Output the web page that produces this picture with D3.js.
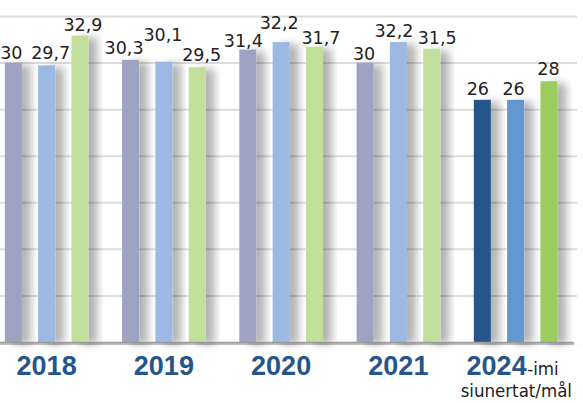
<!DOCTYPE html>
<html><head><meta charset="utf-8">
<script src="https://cdn.jsdelivr.net/npm/d3@7"></script>
<style>html,body{margin:0;padding:0;background:#fff;}svg{display:block;}</style>
</head><body>
<svg id="c" width="583" height="403"></svg>
<script>
const categories = ["2018","2019","2020","2021","2024"];
const seriesA = [30, 30.3, 31.4, 30, 26];
const seriesB = [29.7, 30.1, 32.2, 32.2, 26];
const seriesC = [32.9, 29.5, 31.7, 31.5, 28];
const yTicks = [0,5,10,15,20,25,30,35];
const coloursPast = ["#9ca3c3","#9bb9e2","#c2df9b"];
const coloursTarget = ["#26558a","#6497d0","#9ccc5c"];
// manual label nudges (dx, lift above bar top) as in the reference
const labelDx = [[-2,-6.5,-4.5,-1,-4.5],[4,-1,-2,-4.5,-2],[3,4.5,6.5,5.5,-0.5]];
const labelLift = [[3.3,5.5,3,2.7,5],[6,21,12.7,5.4,5],[5,6.6,2.4,4.3,6]];

const svg = d3.select("#c");
const defs = svg.append("defs");
const f = defs.append("filter").attr("id","sh").attr("x","-20%").attr("y","-10%").attr("width","200%").attr("height","130%");
f.append("feGaussianBlur").attr("in","SourceAlpha").attr("stdDeviation",4.5).attr("result","b");
f.append("feOffset").attr("in","b").attr("dx",9).attr("dy",2).attr("result","o");
f.append("feComponentTransfer").attr("in","o").attr("result","t").append("feFuncA").attr("type","linear").attr("slope",0.3);
const m = f.append("feMerge"); m.append("feMergeNode").attr("in","t"); m.append("feMergeNode").attr("in","SourceGraphic");

const y = d3.scaleLinear().domain([0,35]).range([342,16]);
const x = d3.scaleBand().domain(categories).range([-12,574.25]).padding(0);
const xi = d3.scalePoint().domain([0,1,2]).range([-33.3,33.3]);
const bw = 17;

// gridlines
const g = svg.append("g")
  .call(d3.axisLeft(y).tickValues(yTicks.slice(1)).tickSize(-577).tickFormat(""));
g.select(".domain").remove();
g.selectAll(".tick line").attr("stroke","#dcdcdc").attr("stroke-width",2);

// baseline shadow
svg.append("rect").attr("x",0).attr("y",y(0)).attr("width",574).attr("height",3).attr("fill","#000").attr("opacity",0.25).attr("filter","url(#sh)");

const data = categories.map((c,i)=>({c, i, vals:[seriesA[i],seriesB[i],seriesC[i]], target:i===4}));
const grp = svg.selectAll(".grp").data(data).join("g").attr("class","grp")
  .attr("transform",d=>`translate(${x(d.c)+x.bandwidth()/2},0)`);
grp.selectAll("rect").data(d=>d.vals.map((v,k)=>({v,k,t:d.target}))).join("rect")
  .attr("x",d=>xi(d.k)-bw/2).attr("width",bw)
  .attr("y",d=>y(d.v)).attr("height",d=>y(0)-y(d.v))
  .attr("fill",d=>(d.t?coloursTarget:coloursPast)[d.k])
  .attr("filter","url(#sh)");

// baseline
svg.append("line").attr("x1",0).attr("x2",574).attr("y1",y(0)+0.5).attr("y2",y(0)+0.5).attr("stroke","#9a9a9a").attr("stroke-width",1.5);

const fmt = v => String(v).replace(".",",");
grp.selectAll("text.v").data(d=>d.vals.map((v,k)=>({v,k,i:d.i}))).join("text").attr("class","v")
  .attr("x",d=>xi(d.k)+labelDx[d.k][d.i]).attr("y",d=>y(d.v)-labelLift[d.k][d.i])
  .attr("text-anchor","middle").attr("font-family","'DejaVu Sans', sans-serif").attr("font-size",17.5)
  .attr("fill","#222").text(d=>fmt(d.v));

// category labels
const lab = svg.append("g");
categories.forEach((c,i)=>{
  const cx = x(c)+x.bandwidth()/2;
  const t = lab.append("text").attr("y",375).attr("font-family","'Liberation Sans', Arial, sans-serif")
    .attr("font-weight","bold").attr("font-size",27).attr("fill","#26558a");
  if(i===4){
    t.attr("x",cx-19).attr("text-anchor","middle").text(c);
    lab.append("text").attr("x",cx+11.5).attr("y",375).attr("font-family","'DejaVu Sans Condensed','DejaVu Sans',sans-serif")
      .attr("font-size",18.5).attr("fill","#222").text("-imi");
    lab.append("text").attr("x",572).attr("y",397).attr("text-anchor","end").attr("font-family","'DejaVu Sans Condensed','DejaVu Sans',sans-serif")
      .attr("font-size",18.5).attr("fill","#222").text("siunertat/mål");
  } else {
    t.attr("x",cx).attr("text-anchor","middle").text(c);
  }
});
</script>
</body></html>
